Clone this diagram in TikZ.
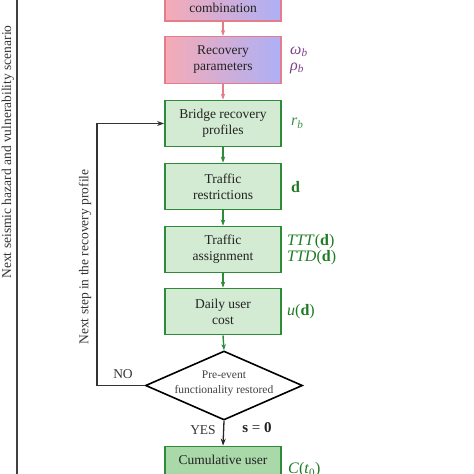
\documentclass[tikz,border=0pt]{standalone}
\usepackage{fontspec}
\setmainfont{Liberation Serif}
\usetikzlibrary{arrows.meta,shapes.geometric}
\definecolor{pinkL}{HTML}{F5ABB6}
\definecolor{pinkR}{HTML}{ADB0F7}
\definecolor{pinkB}{HTML}{E47C8C}
\definecolor{grnF}{HTML}{D2EBD2}
\definecolor{grnF2}{HTML}{A9D8A9}
\definecolor{grnB}{HTML}{2E8B3A}
\definecolor{purp}{HTML}{7B3F8C}
\definecolor{grnT}{HTML}{3E8F4E}
\definecolor{grnD}{HTML}{1F7A24}
\definecolor{txt}{HTML}{222222}
\begin{document}
\begin{tikzpicture}[x=1pt,y=-1pt,
  every node/.style={font=\fontsize{13.5}{16}\selectfont, text=txt},
  pinkbox/.style={draw=pinkB, line width=1.2pt, left color=pinkL, right color=pinkR,
    minimum width=116pt, minimum height=47pt, align=center, inner sep=0pt},
  grnbox/.style={draw=grnB, line width=1.8pt, fill=grnF,
    minimum width=116pt, minimum height=46pt, align=center, inner sep=0pt},
  pinkarr/.style={draw=pinkB, line width=1.2pt, -{Stealth[length=6pt,width=4.5pt]}},
  grnarr/.style={draw=grnB, line width=1.4pt, -{Stealth[length=6pt,width=4.5pt]}},
  blkarr/.style={draw=black!85, line width=1.3pt, -{Stealth[length=7pt,width=5pt]}},
  lab/.style={anchor=west, align=left, inner sep=0pt, font=\fontsize{16}{17}\selectfont},
]
\useasboundingbox (0,0) rectangle (474,474);
\clip (0,0) rectangle (474,474);

% left line and texts
\coordinate (lt) at (17,0);
\coordinate (lb) at (17,474);
\draw[black!75, line width=1.2pt] (lt) -- (lb);
\node[rotate=90, text=black!80] (seis) at (8,152) {Next seismic hazard and vulnerability scenario};

% boxes
\node[pinkbox] (c1) at (223,-2.5) {\rule{0pt}{30pt}combination};
\node[pinkbox] (c2) at (223,60) {Recovery\\parameters};
\node[grnbox] (b3) at (223,123.5) {Bridge recovery\\profiles};
\node[grnbox] (b4) at (223,186.5) {Traffic\\restrictions};
\node[grnbox] (b5) at (223,249.5) {Traffic\\assignment};
\node[grnbox] (b6) at (223,311.5) {Daily user\\cost};
\node[draw=black, line width=1.6pt, shape=diamond, aspect=2.28,
      minimum width=157pt, minimum height=69pt, inner sep=0pt] (dm) at (224,385.5) {};
\node[font=\fontsize{11.5}{15}\selectfont, text=black!75, align=center] (dmt) at (224,383) {Pre-event\\functionality restored};
\node[grnbox, fill=grnF2] (cum) at (223,469.5) {Cumulative user\rule[-18.5pt]{0pt}{18.5pt}};

% arrows
\draw[pinkarr] (c1.south) -- (c2.north);
\draw[pinkarr] (c2.south) -- (b3.north);
\draw[grnarr] (b3.south) -- (b4.north);
\draw[grnarr] (b4.south) -- (b5.north);
\draw[grnarr] (b5.south) -- (b6.north);
\draw[grnarr] (b6.south) -- (dm.north);
\draw[blkarr] (dm.south) -- (cum.north);

% loop
\coordinate (loopx) at (97,0);
\draw[black!80, line width=1.3pt, -{Stealth[length=7pt,width=5pt]}]
  (dm.west) -- (dm.west -| loopx) |- (b3.west);
\node[text=black!80] (no) at (123,374) {NO};
\node[rotate=90, text=black!80] (nxt) at (85,257) {Next step in the recovery profile};
\node[text=black!80] (yes) at (203,430) {YES};
\node[font=\fontsize{15}{16}\selectfont] (s0) at (257,428) {\textbf{s} = \textbf{0}};

% right labels
\node[lab, text=purp] (om) at (290,60) {\textit{ω}\textsubscript{\textit{b}}\\[-1pt]\textit{ρ}\textsubscript{\textit{b}}};
\node[lab, text=grnT] (rb) at (291,123) {\textit{r}\textsubscript{\textit{b}}};
\node[lab, text=grnD] (dd) at (291,187) {\textbf{d}};
\node[lab, text=grnD] (ttt) at (287,250) {\textit{TTT}(\textbf{d})\\[-1pt]\textit{TTD}(\textbf{d})};
\node[lab, text=grnD] (ud) at (287,312) {\textit{u}(\textbf{d})};
\node[lab, text=grnD] (ct) at (288,470) {\textit{C}(\textit{t}\textsubscript{0})};
\end{tikzpicture}
\end{document}
